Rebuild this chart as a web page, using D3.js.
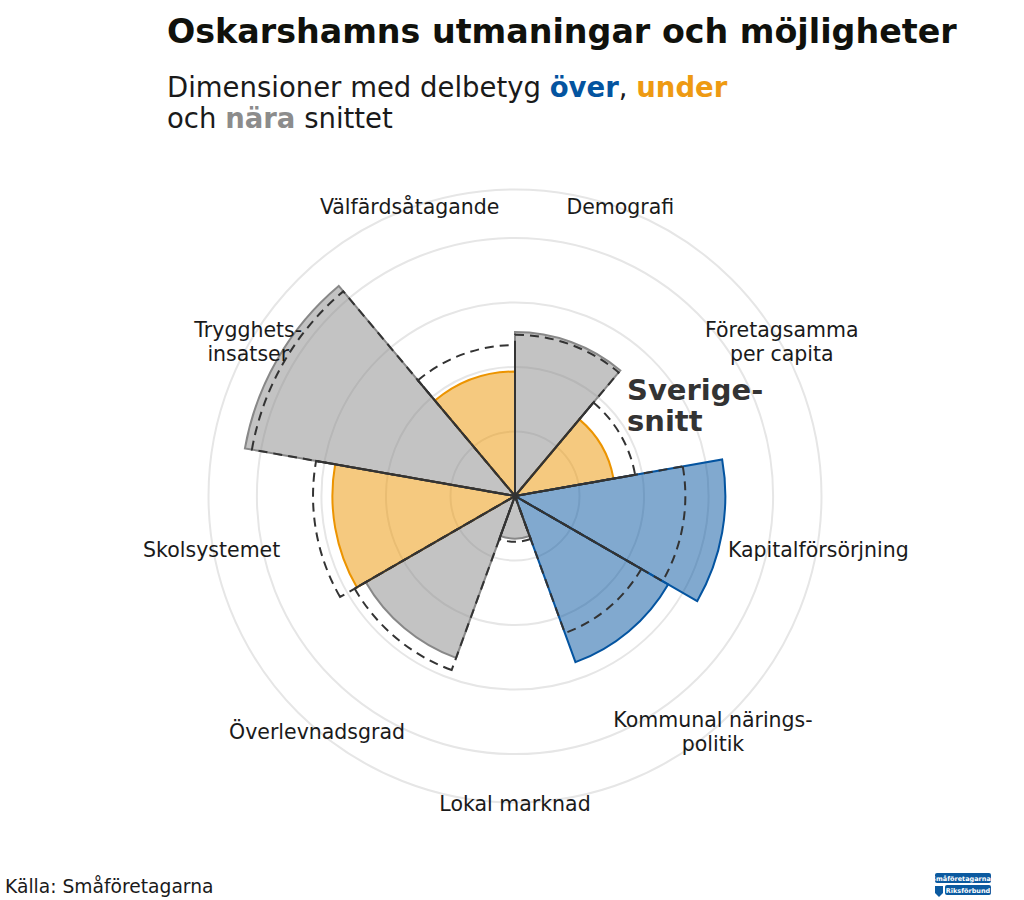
<!DOCTYPE html>
<html><head><meta charset="utf-8">
<script src="https://cdn.jsdelivr.net/npm/d3@7"></script>
<style>body{margin:0;background:#fff} svg{display:block;font-family:"DejaVu Sans",sans-serif}</style>
</head><body><svg id="c" width="1024" height="900"></svg>
<script>
const categories = ["Demografi","Företagsamma\nper capita","Kapitalförsörjning","Kommunal närings-\npolitik","Lokal marknad","Överlevnadsgrad","Skolsystemet","Trygghets-\ninsatser","Välfärdsåtagande"];
const values       = [2.54, 1.55, 3.26, 2.74, 0.66, 2.67, 2.83, 4.25, 1.93];
const sverigeSnitt = [2.50, 1.89, 2.64, 2.26, 0.71, 2.87, 3.13, 4.14, 2.34];
const status       = ["nära","under","över","över","nära","nära","under","nära","under"];
const gridTicks    = [1, 2, 3, 4, 4.75];
const statusColor  = {"över":"#0454a0","under":"#ec9400","nära":"#888888"};

const svg = d3.select("#c");
const cx = 515, cy = 496;
const r = d3.scaleLinear().domain([0, 4.75]).range([0, 306.5]);
const ang = d3.scaleBand().domain(categories).range([0, 2*Math.PI]).padding(0);
const g = svg.append("g").attr("transform",`translate(${cx},${cy})`);

// grid
g.selectAll("circle.grid").data(gridTicks).join("circle")
  .attr("r", d => r(d)).attr("fill","none").attr("stroke","#e6e6e6").attr("stroke-width",2);

const arc = d3.arc().innerRadius(0);
// data sectors
g.selectAll("path.sec").data(categories).join("path")
  .attr("d", (c,i) => arc({startAngle: ang(c), endAngle: ang(c)+ang.bandwidth(), outerRadius: r(values[i])}))
  .attr("fill", (c,i) => statusColor[status[i]]).attr("fill-opacity",0.5)
  .attr("stroke", (c,i) => statusColor[status[i]]).attr("stroke-width",2).attr("stroke-linejoin","miter");

// average (Sverige-snitt) dashed sectors
g.selectAll("path.avg").data(categories).join("path")
  .attr("d", (c,i) => arc({startAngle: ang(c), endAngle: ang(c)+ang.bandwidth(), outerRadius: r(sverigeSnitt[i])}))
  .attr("fill","none").attr("stroke","#333").attr("stroke-width",2).attr("stroke-dasharray","9,6");

// solid radial separators where both neighbouring averages overlap
const n = categories.length;
g.selectAll("line.sep").data(categories).join("line")
  .attr("x1",0).attr("y1",0)
  .attr("x2",(c,i)=> r(Math.min(sverigeSnitt[i], sverigeSnitt[(i-1+n)%n]))*Math.sin(ang(c)))
  .attr("y2",(c,i)=> -r(Math.min(sverigeSnitt[i], sverigeSnitt[(i-1+n)%n]))*Math.cos(ang(c)))
  .attr("stroke","#333").attr("stroke-width",2);

// category labels
const labR = 308, fs = 20.5, lh = 24;
categories.forEach((c) => {
  const a = ang(c) + ang.bandwidth()/2;
  const x = labR*Math.sin(a), y = -labR*Math.cos(a);
  const lines = c.split("\n");
  const t = g.append("text").attr("text-anchor","middle").attr("font-size",fs).attr("fill","#1a1a1a");
  lines.forEach((l,k) => {
    t.append("tspan").attr("x", x).attr("y", y + (k - (lines.length-1)/2)*lh + fs*0.35).text(l);
  });
});

// Sverige-snitt annotation
svg.append("text").attr("x",627).attr("y",400).attr("font-size",29).attr("font-weight","bold").attr("fill","#333").text("Sverige-");
svg.append("text").attr("x",627).attr("y",431).attr("font-size",29).attr("font-weight","bold").attr("fill","#333").text("snitt");

// title
svg.append("text").attr("x",167).attr("y",43).attr("font-size",33.3).attr("font-weight","bold").attr("fill","#10110c")
  .text("Oskarshamns utmaningar och möjligheter");
const sub = svg.append("text").attr("font-size",27.5).attr("fill","#1a1a1a");
const l1 = sub.append("tspan").attr("x",167).attr("y",97);
l1.append("tspan").text("Dimensioner med delbetyg ");
l1.append("tspan").attr("font-weight","bold").attr("fill",statusColor["över"]).text("över");
l1.append("tspan").text(", ");
l1.append("tspan").attr("font-weight","bold").attr("fill","#ee9a12").text("under");
const l2 = sub.append("tspan").attr("x",167).attr("y",128);
l2.append("tspan").text("och ");
l2.append("tspan").attr("font-weight","bold").attr("fill","#8c8c8c").text("nära");
l2.append("tspan").text(" snittet");

// source
svg.append("text").attr("x",5).attr("y",893).attr("font-size",18.7).attr("fill","#1a1a1a").text("Källa: Småföretagarna");

// logo
const lg = svg.append("g").attr("transform","translate(935,873)");
lg.append("rect").attr("x",0).attr("y",0).attr("width",56).attr("height",10).attr("rx",2).attr("fill","#0b5aa0");
lg.append("text").attr("x",28).attr("y",7.5).attr("text-anchor","middle").attr("font-size",6.5).attr("font-weight","bold").attr("fill","#fff").text("Småföretagarnas");
lg.append("rect").attr("x",10).attr("y",12).attr("width",46).attr("height",10).attr("rx",2).attr("fill","#0b5aa0");
lg.append("text").attr("x",33).attr("y",19.5).attr("text-anchor","middle").attr("font-size",6.5).attr("font-weight","bold").attr("fill","#fff").text("Riksförbund");
lg.append("path").attr("d","M0,13 L8,13 L8,20 L4,24 L0,20 Z").attr("fill","#0b5aa0");
</script></body></html>
